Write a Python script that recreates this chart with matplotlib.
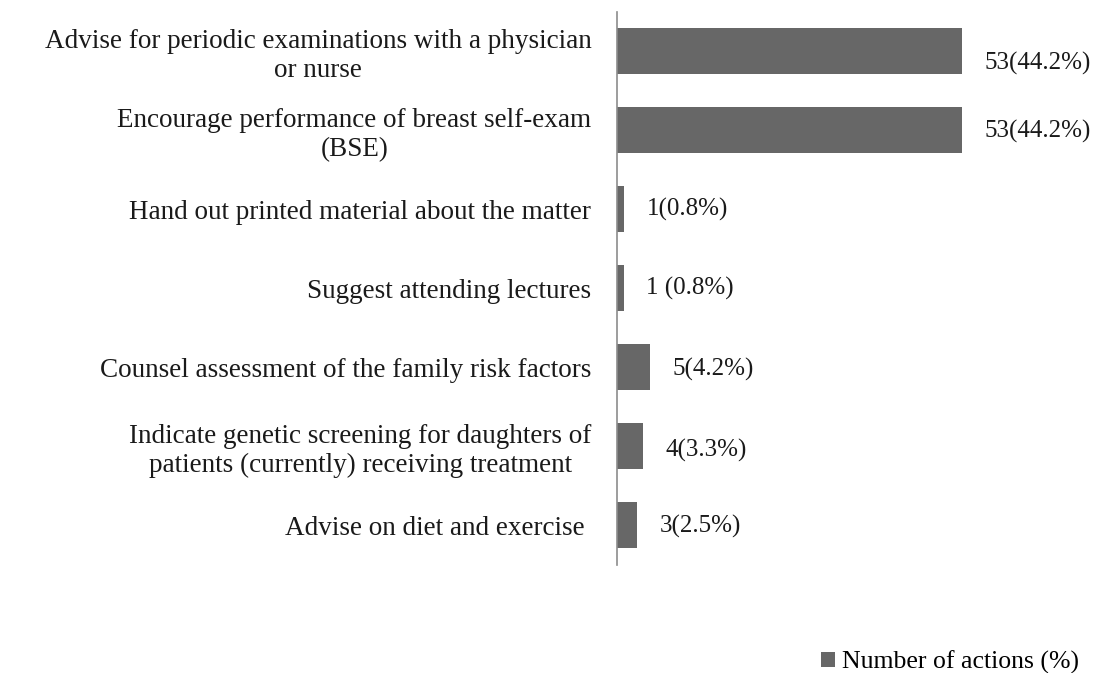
"""Horizontal bar chart: recommended actions (count and share)."""

import matplotlib
matplotlib.use("Agg")
import matplotlib.pyplot as plt
import numpy as np

plt.rcParams["font.family"] = ["Liberation Serif", "DejaVu Serif"]

categories = [
    "Advise for periodic examinations with a physician\nor nurse",
    "Encourage performance of breast self-exam\n(BSE)",
    "Hand out printed material about the matter",
    "Suggest attending lectures",
    "Counsel assessment of the family risk factors",
    "Indicate genetic screening for daughters of\npatients (currently) receiving treatment",
    "Advise on diet and exercise ",
]
counts = [53, 53, 1, 1, 5, 4, 3]
value_labels = ["53(44.2%)", "53(44.2%)", "1(0.8%)", "1 (0.8%)",
                "5(4.2%)", "4(3.3%)", "3(2.5%)"]
label_dy = [-9, -1, 0, 0, -2, -3, -1]  # small vertical nudges, points
series_name = "Number of actions (%)"

BAR_COLOR = "#676767"
TEXT_COLOR = "#1a1a1a"
FS_CAT = 19.5
FS_VAL = 18
FS_LEG = 18.5

fig = plt.figure(figsize=(11.03, 6.73), dpi=100)
ax = fig.add_axes([0.5594, 0.1612, 0.4125, 0.8217])

y = np.arange(len(categories))
bars = ax.barh(y, counts, height=0.58, color=BAR_COLOR, label=series_name)

for yi, c, lab, dy in zip(y, counts, value_labels, label_dy):
    ax.annotate(lab, xy=(c, yi), xytext=(16.5, dy), textcoords="offset points",
                ha="left", va="center", fontsize=FS_VAL, color=TEXT_COLOR)

ax.set_xlim(0, 70)
ax.set_ylim(len(categories) - 0.5, -0.5)
ax.set_yticks(y)
ax.set_yticklabels(categories, fontsize=FS_CAT, color=TEXT_COLOR)
for t in ax.get_yticklabels():
    t.set_multialignment("center")
    t.set_linespacing(1.2)
ax.tick_params(axis="y", length=0, pad=18.5)
ax.set_xticks([])

for side in ["top", "right", "bottom"]:
    ax.spines[side].set_visible(False)
ax.spines["left"].set_color("#8c8c8c")
ax.spines["left"].set_linewidth(1.2)

fig.legend(handles=[bars], labels=[series_name], loc="center left",
           bbox_to_anchor=(0.744, 0.016), frameon=False, fontsize=FS_LEG,
           handlelength=0.55, handleheight=0.55, handletextpad=0.3,
           borderpad=0, borderaxespad=0)

fig.savefig("out.png", dpi=100)
